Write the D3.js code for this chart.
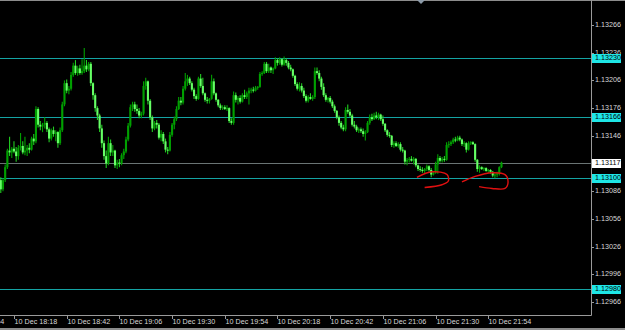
<!DOCTYPE html>
<html>
<head>
<meta charset="utf-8">
<script src="https://cdn.jsdelivr.net/npm/d3@7"></script>
<style>
  body { margin: 0; background: #000; }
  svg { display: block; }
</style>
</head>
<body>
<svg id="chart" width="625" height="330"></svg>
<script>
// M1 candles, 10 Dec 18:12 .. 22:00
const firstBar = "10 Dec 18:12";

const opens = [
  1.13098,1.13088,1.13098,1.13112,1.13130,1.13128,1.13132,1.13129,1.13124,1.13133,
  1.13135,1.13128,1.13130,1.13133,1.13131,1.13143,1.13140,1.13175,1.13158,1.13156,
  1.13158,1.13160,1.13153,1.13143,1.13152,1.13148,1.13150,1.13138,1.13152,1.13180,
  1.13203,1.13195,1.13197,1.13212,1.13222,1.13214,1.13219,1.13214,1.13216,1.13222,
  1.13218,1.13224,1.13203,1.13190,1.13176,1.13168,1.13154,1.13138,1.13124,1.13116,
  1.13138,1.13128,1.13130,1.13114,1.13117,1.13116,1.13125,1.13129,1.13142,1.13157,
  1.13177,1.13180,1.13175,1.13173,1.13168,1.13170,1.13200,1.13205,1.13184,1.13166,
  1.13154,1.13160,1.13158,1.13144,1.13148,1.13140,1.13131,1.13130,1.13147,1.13158,
  1.13164,1.13175,1.13184,1.13182,1.13197,1.13205,1.13208,1.13203,1.13196,1.13189,
  1.13186,1.13208,1.13200,1.13192,1.13185,1.13184,1.13186,1.13205,1.13192,1.13185,
  1.13179,1.13176,1.13177,1.13175,1.13176,1.13162,1.13160,1.13190,1.13185,1.13187,
  1.13183,1.13190,1.13188,1.13192,1.13195,1.13196,1.13195,1.13198,1.13199,1.13213,
  1.13214,1.13224,1.13216,1.13220,1.13217,1.13219,1.13228,1.13225,1.13229,1.13223,
  1.13228,1.13225,1.13220,1.13218,1.13211,1.13202,1.13197,1.13200,1.13195,1.13189,
  1.13184,1.13188,1.13186,1.13188,1.13216,1.13214,1.13208,1.13199,1.13190,1.13185,
  1.13187,1.13183,1.13178,1.13173,1.13166,1.13160,1.13155,1.13153,1.13174,1.13172,
  1.13168,1.13158,1.13156,1.13152,1.13153,1.13151,1.13148,1.13150,1.13160,1.13166,
  1.13164,1.13168,1.13166,1.13169,1.13164,1.13159,1.13152,1.13147,1.13146,1.13136,
  1.13138,1.13135,1.13137,1.13131,1.13130,1.13118,1.13120,1.13121,1.13119,1.13121,
  1.13114,1.13110,1.13109,1.13108,1.13110,1.13113,1.13109,1.13104,1.13106,1.13115,
  1.13122,1.13119,1.13121,1.13120,1.13136,1.13137,1.13139,1.13142,1.13141,1.13144,
  1.13142,1.13137,1.13138,1.13131,1.13138,1.13139,1.13137,1.13120,1.13110,1.13112,
  1.13110,1.13111,1.13108,1.13109,1.13107,1.13103,1.13104,1.13105,1.13112
];
const highs = [
  1.13101,1.13100,1.13115,1.13132,1.13145,1.13134,1.13140,1.13134,1.13136,1.13149,
  1.13140,1.13145,1.13136,1.13138,1.13145,1.13148,1.13178,1.13177,1.13162,1.13160,
  1.13166,1.13162,1.13155,1.13154,1.13156,1.13152,1.13151,1.13155,1.13183,1.13206,
  1.13207,1.13200,1.13215,1.13225,1.13228,1.13222,1.13223,1.13229,1.13241,1.13228,
  1.13226,1.13226,1.13204,1.13192,1.13178,1.13170,1.13158,1.13141,1.13130,1.13145,
  1.13142,1.13136,1.13131,1.13120,1.13121,1.13127,1.13132,1.13145,1.13160,1.13180,
  1.13183,1.13183,1.13180,1.13176,1.13172,1.13205,1.13209,1.13206,1.13186,1.13168,
  1.13162,1.13163,1.13160,1.13152,1.13150,1.13143,1.13134,1.13150,1.13160,1.13167,
  1.13178,1.13188,1.13188,1.13200,1.13214,1.13212,1.13210,1.13205,1.13198,1.13191,
  1.13210,1.13213,1.13209,1.13193,1.13188,1.13187,1.13212,1.13208,1.13193,1.13186,
  1.13181,1.13179,1.13179,1.13179,1.13177,1.13165,1.13194,1.13193,1.13189,1.13190,
  1.13192,1.13196,1.13194,1.13198,1.13198,1.13199,1.13200,1.13200,1.13215,1.13216,
  1.13226,1.13226,1.13224,1.13221,1.13220,1.13231,1.13230,1.13231,1.13230,1.13232,
  1.13230,1.13227,1.13223,1.13219,1.13212,1.13204,1.13204,1.13203,1.13198,1.13191,
  1.13190,1.13192,1.13190,1.13220,1.13220,1.13217,1.13210,1.13203,1.13192,1.13188,
  1.13189,1.13185,1.13180,1.13174,1.13168,1.13162,1.13158,1.13177,1.13180,1.13175,
  1.13170,1.13162,1.13158,1.13155,1.13155,1.13154,1.13152,1.13162,1.13169,1.13170,
  1.13171,1.13172,1.13171,1.13170,1.13168,1.13160,1.13153,1.13150,1.13147,1.13140,
  1.13140,1.13139,1.13139,1.13134,1.13131,1.13122,1.13123,1.13124,1.13123,1.13122,
  1.13115,1.13113,1.13112,1.13111,1.13115,1.13114,1.13111,1.13108,1.13118,1.13126,
  1.13124,1.13123,1.13124,1.13139,1.13140,1.13141,1.13144,1.13145,1.13146,1.13146,
  1.13143,1.13140,1.13139,1.13140,1.13140,1.13140,1.13138,1.13121,1.13114,1.13113,
  1.13112,1.13112,1.13110,1.13110,1.13108,1.13106,1.13107,1.13113,1.13118
];
const lows = [
  1.13084,1.13086,1.13096,1.13110,1.13124,1.13122,1.13127,1.13118,1.13120,1.13130,
  1.13126,1.13125,1.13124,1.13127,1.13130,1.13136,1.13138,1.13155,1.13152,1.13150,
  1.13154,1.13150,1.13139,1.13141,1.13145,1.13140,1.13133,1.13136,1.13150,1.13178,
  1.13192,1.13191,1.13195,1.13210,1.13212,1.13211,1.13212,1.13212,1.13214,1.13215,
  1.13216,1.13200,1.13185,1.13172,1.13163,1.13150,1.13133,1.13120,1.13111,1.13114,
  1.13124,1.13124,1.13111,1.13110,1.13112,1.13114,1.13121,1.13127,1.13140,1.13155,
  1.13173,1.13172,1.13170,1.13165,1.13165,1.13168,1.13196,1.13180,1.13163,1.13150,
  1.13152,1.13154,1.13142,1.13140,1.13137,1.13128,1.13126,1.13129,1.13145,1.13153,
  1.13162,1.13174,1.13179,1.13180,1.13195,1.13200,1.13201,1.13194,1.13186,1.13184,
  1.13185,1.13198,1.13190,1.13183,1.13181,1.13181,1.13185,1.13190,1.13183,1.13177,
  1.13174,1.13174,1.13174,1.13173,1.13160,1.13158,1.13158,1.13182,1.13180,1.13181,
  1.13182,1.13186,1.13186,1.13180,1.13192,1.13193,1.13194,1.13196,1.13198,1.13211,
  1.13213,1.13214,1.13214,1.13214,1.13213,1.13218,1.13222,1.13223,1.13221,1.13222,
  1.13222,1.13218,1.13216,1.13209,1.13200,1.13195,1.13194,1.13193,1.13187,1.13182,
  1.13182,1.13185,1.13184,1.13186,1.13212,1.13205,1.13196,1.13188,1.13183,1.13182,
  1.13181,1.13176,1.13171,1.13164,1.13157,1.13153,1.13151,1.13151,1.13170,1.13166,
  1.13156,1.13154,1.13150,1.13149,1.13149,1.13145,1.13141,1.13149,1.13158,1.13162,
  1.13163,1.13164,1.13163,1.13162,1.13157,1.13150,1.13145,1.13144,1.13134,1.13133,
  1.13134,1.13133,1.13129,1.13128,1.13115,1.13114,1.13117,1.13118,1.13115,1.13112,
  1.13108,1.13107,1.13106,1.13105,1.13108,1.13107,1.13101,1.13103,1.13105,1.13105,
  1.13117,1.13117,1.13118,1.13119,1.13133,1.13135,1.13137,1.13139,1.13140,1.13140,
  1.13135,1.13134,1.13128,1.13130,1.13136,1.13136,1.13118,1.13107,1.13106,1.13109,
  1.13108,1.13107,1.13106,1.13105,1.13101,1.13100,1.13101,1.13103,1.13111
];
const closes = [
  1.13088,1.13098,1.13112,1.13130,1.13128,1.13132,1.13129,1.13124,1.13133,1.13135,
  1.13128,1.13130,1.13133,1.13131,1.13143,1.13140,1.13175,1.13158,1.13156,1.13158,
  1.13160,1.13153,1.13143,1.13152,1.13148,1.13150,1.13138,1.13152,1.13180,1.13203,
  1.13195,1.13197,1.13212,1.13222,1.13214,1.13219,1.13214,1.13216,1.13222,1.13218,
  1.13224,1.13203,1.13190,1.13176,1.13168,1.13154,1.13138,1.13124,1.13116,1.13138,
  1.13128,1.13130,1.13114,1.13117,1.13116,1.13125,1.13129,1.13142,1.13157,1.13177,
  1.13180,1.13175,1.13173,1.13168,1.13170,1.13200,1.13205,1.13184,1.13166,1.13154,
  1.13160,1.13158,1.13144,1.13148,1.13140,1.13131,1.13130,1.13147,1.13158,1.13164,
  1.13175,1.13184,1.13182,1.13197,1.13205,1.13208,1.13203,1.13196,1.13189,1.13186,
  1.13208,1.13200,1.13192,1.13185,1.13184,1.13186,1.13205,1.13192,1.13185,1.13179,
  1.13176,1.13177,1.13175,1.13176,1.13162,1.13160,1.13190,1.13185,1.13187,1.13183,
  1.13190,1.13188,1.13192,1.13195,1.13196,1.13195,1.13198,1.13199,1.13213,1.13214,
  1.13224,1.13216,1.13220,1.13217,1.13219,1.13228,1.13225,1.13229,1.13223,1.13228,
  1.13225,1.13220,1.13218,1.13211,1.13202,1.13197,1.13200,1.13195,1.13189,1.13184,
  1.13188,1.13186,1.13188,1.13216,1.13214,1.13208,1.13199,1.13190,1.13185,1.13187,
  1.13183,1.13178,1.13173,1.13166,1.13160,1.13155,1.13153,1.13174,1.13172,1.13168,
  1.13158,1.13156,1.13152,1.13153,1.13151,1.13148,1.13150,1.13160,1.13166,1.13164,
  1.13168,1.13166,1.13169,1.13164,1.13159,1.13152,1.13147,1.13146,1.13136,1.13138,
  1.13135,1.13137,1.13131,1.13130,1.13118,1.13120,1.13121,1.13119,1.13121,1.13114,
  1.13110,1.13109,1.13108,1.13110,1.13113,1.13109,1.13104,1.13106,1.13115,1.13122,
  1.13119,1.13121,1.13120,1.13136,1.13137,1.13139,1.13142,1.13141,1.13144,1.13142,
  1.13137,1.13138,1.13131,1.13138,1.13139,1.13137,1.13120,1.13110,1.13112,1.13110,
  1.13111,1.13108,1.13109,1.13107,1.13103,1.13104,1.13105,1.13112,1.13117
];

// horizontal levels drawn on the chart
const levels = [1.13230, 1.13166, 1.13100, 1.12980];

// price scale labels
const priceTicks = ["1.13266", "1.13236", "1.13206", "1.13176", "1.13146", "1.13116",
                    "1.13086", "1.13056", "1.13026", "1.12996", "1.12966"];

// time scale labels
const timeLabels = ["10 Dec 17:54", "10 Dec 18:18", "10 Dec 18:42", "10 Dec 19:06",
                    "10 Dec 19:30", "10 Dec 19:54", "10 Dec 20:18", "10 Dec 20:42",
                    "10 Dec 21:06", "10 Dec 21:30", "10 Dec 21:54"];

// red hand-drawn marks: [bar, price]
const scribble1 = [[189.5, 1.13101], [196.4, 1.13107], [203.2, 1.13104], [203.8, 1.13097],
                   [200.9, 1.13093], [193.0, 1.13090]];
const scribble2 = [[210.0, 1.13096], [216.0, 1.13102], [223.7, 1.13106], [229.6, 1.13104],
                   [231.0, 1.13096], [229.6, 1.13089], [223.7, 1.13089], [217.8, 1.13091]];

const size = { width: 625, height: 330, plotRight: 591, plotBottom: 315 };
const barStep = 2.196;
const firstX = 0.8;
const axisFont = "'Liberation Sans', Arial, sans-serif";

const svg = d3.select("#chart");
svg.append("rect").attr("width", size.width).attr("height", size.height).attr("fill", "#000");

const bars = closes.map((c, i) => ({ i, o: opens[i], h: highs[i], l: lows[i], c }));

// bar index -> x
const x = d3.scaleLinear()
  .domain([0, bars.length - 1])
  .range([firstX, firstX + barStep * (bars.length - 1)]);

// price -> y
const y = d3.scaleLinear()
  .domain([1.129519, 1.132931])
  .range([size.plotBottom, 0]);

const parseTime = d3.timeParse("%d %b %H:%M");
const t0 = parseTime(firstBar);
const barOf = label => (parseTime(label) - t0) / 60000;

// level lines
svg.selectAll(".level")
  .data(levels)
  .enter().append("line")
  .attr("x1", 0).attr("x2", size.plotRight)
  .attr("y1", d => Math.round(y(d)) + 0.5).attr("y2", d => Math.round(y(d)) + 0.5)
  .attr("stroke", "#14a4a4").attr("stroke-width", 1);

// bid line
const bid = closes[closes.length - 1];
svg.append("line")
  .attr("x1", 0).attr("x2", size.plotRight)
  .attr("y1", Math.round(y(bid)) + 0.5).attr("y2", Math.round(y(bid)) + 0.5)
  .attr("stroke", "#6a7474").attr("stroke-width", 1);

// candles
const g = svg.append("g");
g.selectAll(".wick")
  .data(bars)
  .enter().append("line")
  .attr("x1", d => x(d.i)).attr("x2", d => x(d.i))
  .attr("y1", d => y(d.h)).attr("y2", d => y(d.l))
  .attr("stroke", d => d.c >= d.o ? "#00a000" : "#22cc22")
  .attr("stroke-width", 1.1);

g.selectAll(".body")
  .data(bars)
  .enter().append("rect")
  .attr("x", d => x(d.i) - 1.05)
  .attr("width", 2.1)
  .attr("y", d => y(Math.max(d.o, d.c)))
  .attr("height", d => Math.max(1, Math.abs(y(d.o) - y(d.c))))
  .attr("fill", d => d.c >= d.o ? "#00a000" : "#66ff66");

// red scribbles
const scribble = d3.line()
  .x(d => x(d[0])).y(d => y(d[1]))
  .curve(d3.curveCatmullRom);
[scribble1, scribble2].forEach(s => {
  svg.append("path")
    .attr("d", scribble(s))
    .attr("fill", "none")
    .attr("stroke", "#e01010")
    .attr("stroke-width", 1.4);
});

// frame
svg.append("line").attr("x1", 0).attr("x2", size.width).attr("y1", 0.5).attr("y2", 0.5)
  .attr("stroke", "#8c8c8c");
svg.append("line").attr("x1", size.plotRight + 0.5).attr("x2", size.plotRight + 0.5)
  .attr("y1", 0).attr("y2", size.plotBottom + 0.5).attr("stroke", "#9a9a9a");
svg.append("line").attr("x1", 0).attr("x2", size.plotRight + 0.5)
  .attr("y1", size.plotBottom + 0.5).attr("y2", size.plotBottom + 0.5).attr("stroke", "#9a9a9a");
svg.append("rect").attr("x", 0).attr("y", 328).attr("width", size.width).attr("height", 2)
  .attr("fill", "#8c8c8c");

// chart shift marker
svg.append("path")
  .attr("d", "M417,0 L425,0 L421,4 Z")
  .attr("fill", "#8c9aa8");

// price scale
const pt = svg.append("g");
priceTicks.forEach(p => {
  const yy = Math.round(y(+p)) + 0.5;
  pt.append("line").attr("x1", size.plotRight).attr("x2", size.plotRight + 3)
    .attr("y1", yy).attr("y2", yy).attr("stroke", "#9a9a9a");
  pt.append("text")
    .attr("x", size.plotRight + 4).attr("y", yy)
    .attr("dominant-baseline", "middle")
    .attr("font-family", axisFont).attr("font-size", 7.2)
    .attr("fill", "#d8d8d8")
    .text(p);
});

// level labels
function priceBox(value, bg) {
  const yy = Math.round(y(value)) + 0.5;
  svg.append("rect")
    .attr("x", size.plotRight + 1).attr("y", yy - 4.5)
    .attr("width", 29).attr("height", 9)
    .attr("fill", bg);
  svg.append("text")
    .attr("x", size.plotRight + 4).attr("y", yy)
    .attr("dominant-baseline", "middle")
    .attr("font-family", axisFont).attr("font-size", 7.2)
    .attr("fill", "#000")
    .text(value.toFixed(5));
}
levels.forEach(v => priceBox(v, "#1ee6e6"));
priceBox(bid, "#ffffff");

// time scale
const tt = svg.append("g");
timeLabels.forEach(lbl => {
  const xx = Math.round(x(barOf(lbl))) + 0.5;
  tt.append("line").attr("x1", xx).attr("x2", xx)
    .attr("y1", size.plotBottom).attr("y2", size.plotBottom + 4).attr("stroke", "#9a9a9a");
  tt.append("text")
    .attr("x", xx).attr("y", 322)
    .attr("dominant-baseline", "middle")
    .attr("font-family", axisFont).attr("font-size", 7.2)
    .attr("fill", "#d8d8d8")
    .text(lbl);
});
</script>
</body>
</html>
